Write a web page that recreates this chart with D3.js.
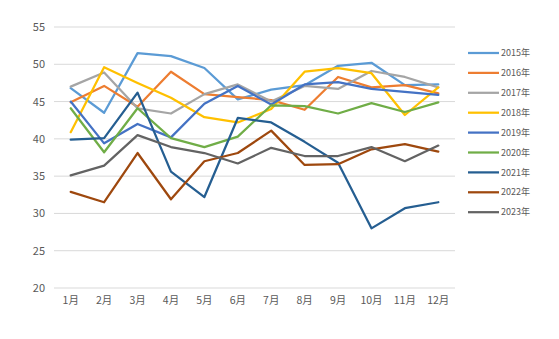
<!DOCTYPE html>
<html>
<head>
<meta charset="utf-8">
<script src="https://cdn.jsdelivr.net/npm/d3@7"></script>
<style>
  html, body { margin: 0; padding: 0; background: #fff; }
  svg { display: block; }
  text { font-family: "Noto Sans CJK SC", "Noto Sans", sans-serif; fill: #595959; }
</style>
</head>
<body>
<svg id="chart" width="559" height="339"></svg>
<script>
// Monthly index by year
const months = ["1月","2月","3月","4月","5月","6月","7月","8月","9月","10月","11月","12月"];
const years = ["2015年","2016年","2017年","2018年","2019年","2020年","2021年","2022年","2023年"];
const colors = ["#5B9BD5","#ED7D31","#A5A5A5","#FFC000","#4472C4","#70AD47","#255E91","#9E480E","#636363"];
const yTicks = [20, 25, 30, 35, 40, 45, 50, 55];

const v2015 = [46.8, 43.5, 51.5, 51.1, 49.5, 45.3, 46.6, 47.2, 49.8, 50.2, 47.2, 47.3];
const v2016 = [44.9, 47.1, 44.3, 49.0, 46.0, 45.6, 45.2, 43.9, 48.3, 46.9, 47.2, 46.1];
const v2017 = [47.0, 48.9, 44.1, 43.4, 46.0, 47.3, 45.0, 47.1, 46.7, 49.1, 48.3, 46.9];
const v2018 = [40.9, 49.6, 47.5, 45.5, 42.9, 42.2, 44.0, 49.0, 49.5, 48.8, 43.2, 46.9];
const v2019 = [45.0, 39.4, 42.0, 40.2, 44.7, 47.1, 44.6, 47.3, 47.6, 46.7, 46.3, 45.9];
const v2020 = [44.1, 38.2, 44.1, 40.1, 38.9, 40.3, 44.5, 44.4, 43.4, 44.8, 43.6, 44.9];
const v2021 = [39.9, 40.1, 46.2, 35.6, 32.2, 42.8, 42.2, 39.6, 36.8, 28.0, 30.7, 31.5];
const v2022 = [32.9, 31.5, 38.1, 31.9, 37.0, 38.1, 41.1, 36.5, 36.6, 38.6, 39.3, 38.3];
const v2023 = [35.1, 36.4, 40.5, 38.9, 38.1, 36.7, 38.8, 37.7, 37.7, 38.9, 37.0, 39.1];
const seriesValues = [v2015, v2016, v2017, v2018, v2019, v2020, v2021, v2022, v2023];

const svg = d3.select("#chart");
const plot = { left: 54, right: 455, top: 27, bottom: 288 };

const x = d3.scaleBand().domain(months).range([plot.left, plot.right]);
const y = d3.scaleLinear().domain([20, 55]).range([plot.bottom, plot.top]);

// Horizontal gridlines
svg.append("g")
  .selectAll("line")
  .data(yTicks)
  .join("line")
  .attr("x1", plot.left).attr("x2", plot.right)
  .attr("y1", d => y(d)).attr("y2", d => y(d))
  .attr("stroke", "#d9d9d9").attr("stroke-width", 1);

// Value axis labels
const yAxis = svg.append("g")
  .attr("transform", `translate(${plot.left - 9},0)`)
  .call(d3.axisLeft(y).tickValues(yTicks).tickSize(0).tickPadding(0));
yAxis.select(".domain").remove();
yAxis.selectAll("text").attr("font-size", 11).attr("fill", "#595959")
  .style("font-family", '"Noto Sans CJK SC", "Noto Sans", sans-serif');

// Month axis labels
const xAxis = svg.append("g")
  .attr("transform", `translate(0,${plot.bottom + 9})`)
  .call(d3.axisBottom(x).tickSize(0).tickPadding(0));
xAxis.select(".domain").remove();
xAxis.selectAll("text").attr("font-size", 10.5).attr("fill", "#595959")
  .style("font-family", '"Noto Sans CJK SC", "Noto Sans", sans-serif');

// Series lines
const line = d3.line()
  .x((d, i) => x(months[i]) + x.bandwidth() / 2)
  .y(d => y(d));

svg.append("g")
  .selectAll("path")
  .data(seriesValues)
  .join("path")
  .attr("d", line)
  .attr("fill", "none")
  .attr("stroke", (d, i) => colors[i])
  .attr("stroke-width", 2.25)
  .attr("stroke-linejoin", "round")
  .attr("stroke-linecap", "round");

// Legend
const legend = svg.append("g").attr("transform", "translate(468,53)");
const item = legend.selectAll("g")
  .data(years)
  .join("g")
  .attr("transform", (d, i) => `translate(0,${i * 19.9})`);
item.append("line")
  .attr("x1", 0).attr("x2", 31).attr("y1", 0).attr("y2", 0)
  .attr("stroke", (d, i) => colors[i]).attr("stroke-width", 2.25);
item.append("text")
  .attr("x", 33).attr("y", 0).attr("dy", "0.35em")
  .attr("font-size", 9)
  .text(d => d);
</script>
</body>
</html>
